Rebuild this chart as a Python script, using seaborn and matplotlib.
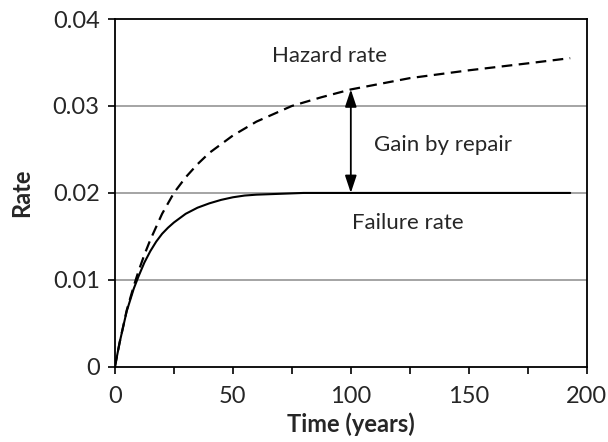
import matplotlib
matplotlib.use("Agg")
import matplotlib.pyplot as plt
import seaborn as sns
import pandas as pd

# Data
time_failure = [0, 2, 5, 8, 10, 12.5, 15, 17.5, 20, 22.5, 25, 30, 35, 40, 45, 50, 55,
                60, 70, 80, 100, 150, 193]
failure_rate = [0, 0.0028, 0.0064, 0.0090, 0.0104, 0.0120, 0.0133, 0.0144, 0.0153,
                0.0160, 0.0166, 0.0176, 0.0183, 0.0188, 0.0192, 0.0195, 0.0197,
                0.0198, 0.0199, 0.0200, 0.0200, 0.0200, 0.0200]
time_hazard = [0, 2, 5, 8, 10, 12.5, 15, 20, 25, 30, 35, 40, 50, 60, 75, 87.5, 100,
               125, 150, 175, 193]
hazard_rate = [0, 0.0028, 0.0065, 0.0093, 0.0110, 0.0129, 0.0146, 0.0176, 0.0200,
               0.0218, 0.0233, 0.0246, 0.0266, 0.0282, 0.0300, 0.0310, 0.0319,
               0.0332, 0.0341, 0.0349, 0.0355]
x_ticks = [0, 50, 100, 150, 200]
y_ticks = [0, 0.01, 0.02, 0.03, 0.04]
y_tick_labels = ["0", "0.01", "0.02", "0.03", "0.04"]

sns.set_theme(style="white")
plt.rcParams['font.family'] = ['Lato', 'DejaVu Sans']

fig = plt.figure(figsize=(6.08, 4.42), dpi=100)
ax = fig.add_axes([0.189, 0.170, 0.776, 0.787])

df_f = pd.DataFrame({"t": time_failure, "r": failure_rate})
df_h = pd.DataFrame({"t": time_hazard, "r": hazard_rate})

for yv in [0.01, 0.02, 0.03]:
    ax.axhline(yv, color="#8c8c8c", lw=1.1, zorder=1)

sns.lineplot(data=df_f, x="t", y="r", ax=ax, color="black", lw=1.5, zorder=3)
sns.lineplot(data=df_h, x="t", y="r", ax=ax, color="black", lw=1.6, zorder=3,
             dashes=False)
ax.lines[-1].set_dashes((4.8, 2.9))

ax.annotate("", xy=(100, 0.0319), xytext=(100, 0.0200),
            arrowprops=dict(arrowstyle="<|-|>,head_length=0.75,head_width=0.25",
                            color="black", lw=1.3,
                            mutation_scale=14, shrinkA=0, shrinkB=0), zorder=4)

ax.text(66.5, 0.0358, "Hazard rate", fontsize=16, va="center", ha="left")
ax.text(110, 0.0255, "Gain by repair", fontsize=16, va="center", ha="left")
ax.text(100.4, 0.0165, "Failure rate", fontsize=16, va="center", ha="left")

ax.set_xlim(0, 200)
ax.set_ylim(0, 0.04)
ax.set_xticks(x_ticks)
ax.set_xticks([25, 75, 125, 175], minor=True)
ax.set_yticks(y_ticks)
ax.set_yticklabels(y_tick_labels)
ax.tick_params(axis="both", which="both", direction="out", length=5, width=1.2,
               color="black", labelsize=17, bottom=True, left=True)
ax.tick_params(axis="x", pad=9)
ax.tick_params(axis="y", pad=6)

for s in ax.spines.values():
    s.set_color("black")
    s.set_linewidth(1.3)

ax.set_xlabel("Time (years)", fontsize=17, fontweight="bold", labelpad=4)
ax.set_ylabel("Rate", fontsize=17, fontweight="bold", labelpad=14)

fig.savefig("out.png", dpi=100)
